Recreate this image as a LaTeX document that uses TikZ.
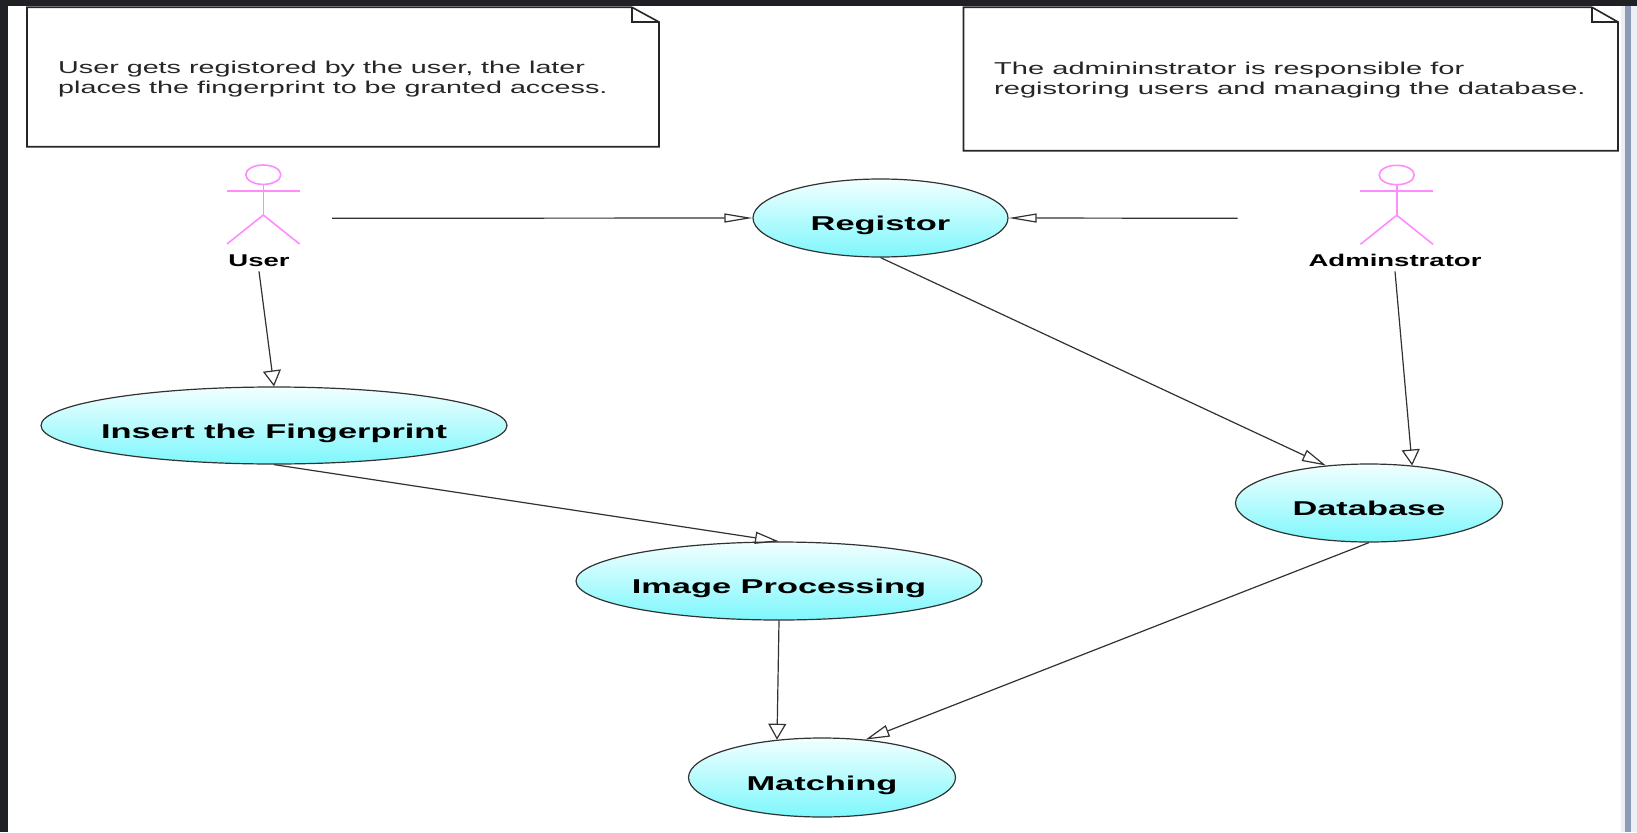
\documentclass[tikz,border=0pt]{standalone}
\usepackage{fontspec}
\setmainfont{Liberation Sans}
\usepackage{graphicx}
\usetikzlibrary{shapes.geometric, arrows.meta, positioning}
\definecolor{ucTop}{RGB}{242,255,255}
\definecolor{ucBot}{RGB}{125,247,252}
\definecolor{actorPink}{RGB}{255,140,255}
\definecolor{lineGray}{RGB}{50,50,50}
\definecolor{frameDark}{RGB}{32,33,36}
\definecolor{frameBlue}{RGB}{140,156,184}
\definecolor{frameLight}{RGB}{236,239,244}
\newcommand{\wide}[2]{\scalebox{#1}[1]{#2}}

\tikzset{
  usecase/.style={ellipse, draw=lineGray, line width=1.2pt, top color=ucTop, bottom color=ucBot,
    minimum height=78pt, inner sep=0pt, label={[uclabel]center:\wide{1.72}{#1}}},
  uclabel/.style={font=\fontsize{20}{22}\selectfont\bfseries, text height=14pt, text depth=4pt, yshift=-7.5pt},
  actorname/.style={font=\fontsize{17}{19}\selectfont\bfseries, inner sep=5pt, anchor=base},
  actorline/.style={draw=actorPink, line width=1.6pt},
  notebox/.style={draw=black!85, line width=1.6pt, fill=white},
  notetext/.style={font=\fontsize{17.2}{19.5}\selectfont, anchor=base west, inner sep=0pt, text=black!85},
  gen h/.style={-{Triangle[open, length=28pt, width=9pt]}},
  gen d/.style={-{Triangle[open, length=24pt, width=12pt]}},
  stickman/.pic={
    \draw[actorline] (0,0) ellipse [x radius=17.5pt, y radius=9.7pt];
    \draw[actorline] (0,9.7) -- (0,40.3);
    \draw[actorline] (-36.3,16) -- (36.3,16);
    \draw[actorline] (-36.3,69.3) -- (0,40.3) -- (36.3,69.3);
  }
}

\begin{document}
\begin{tikzpicture}[x=1pt, y=-1pt, >={Triangle[open, length=16pt, width=18pt]},
    every edge/.append style={draw=lineGray, line width=1.2pt}]
  \useasboundingbox (0,0) rectangle (1637,832);
  % window frame
  \fill[white] (0,0) rectangle (1637,832);
  \fill[frameLight] (1621,0) rectangle (1637,832);
  \fill[frameBlue] (1625,0) rectangle (1631,832);
  \fill[frameDark] (0,0) rectangle (8,832);
  \fill[frameDark] (0,0) rectangle (1637,6.5);

  % notes
  \draw[notebox] (27,7.3) -- (632,7.3) -- (659,22) -- (659,146.7) -- (27,146.7) -- cycle;
  \draw[notebox, fill=none] (632,7.3) |- (659,22);
  \node[notetext] (n1a) at (58,74) {\wide{1.67}{User gets registored by the user, the later}};
  \node[notetext] (n1b) at (58,93.3) {\wide{1.67}{places the fingerprint to be granted access.}};

  \draw[notebox] (963.5,7.3) -- (1592,7.3) -- (1618,22) -- (1618,150.7) -- (963.5,150.7) -- cycle;
  \draw[notebox, fill=none] (1592,7.3) |- (1618,22);
  \node[notetext] (n2a) at (994,75) {\wide{1.69}{The admininstrator is responsible for}};
  \node[notetext] (n2b) at (994,95) {\wide{1.69}{registoring users and managing the database.}};

  % actors
  \pic at (263.3,174.7) {stickman};
  \node[actorname] (user) at (259,266) {\wide{1.62}{User}};
  \pic at (1396.7,175) {stickman};
  \node[actorname] (admin) at (1395,266) {\wide{1.62}{Adminstrator}};
  \coordinate (userR) at (332,218.3);
  \coordinate (adminL) at (1237.6,218.3);

  % use cases
  \node[usecase=Registor, minimum width=255pt] (reg) at (880.5,218) {};
  \node[usecase=Insert the Fingerprint, minimum width=466pt, minimum height=77pt] (ins) at (274,425.5) {};
  \node[usecase=Image Processing, minimum width=406pt] (imp) at (779,581) {};
  \node[usecase=Database, minimum width=267pt] (db) at (1369,503) {};
  \node[usecase=Matching, minimum width=267pt, minimum height=79pt] (match) at (822,777.5) {};

  \path[->] (userR) edge[gen h] (reg.west)
        (adminL) edge[gen h] (reg.east)
        (user.south) edge (ins.north)
        (admin.south) edge (db.41)
        (reg.south) edge[gen d] (db.139)
        (ins.south) edge[gen d] (imp.north)
        (imp.south) edge (match.140)
        (db.south) edge[gen d] (match.41);
\end{tikzpicture}
\end{document}
